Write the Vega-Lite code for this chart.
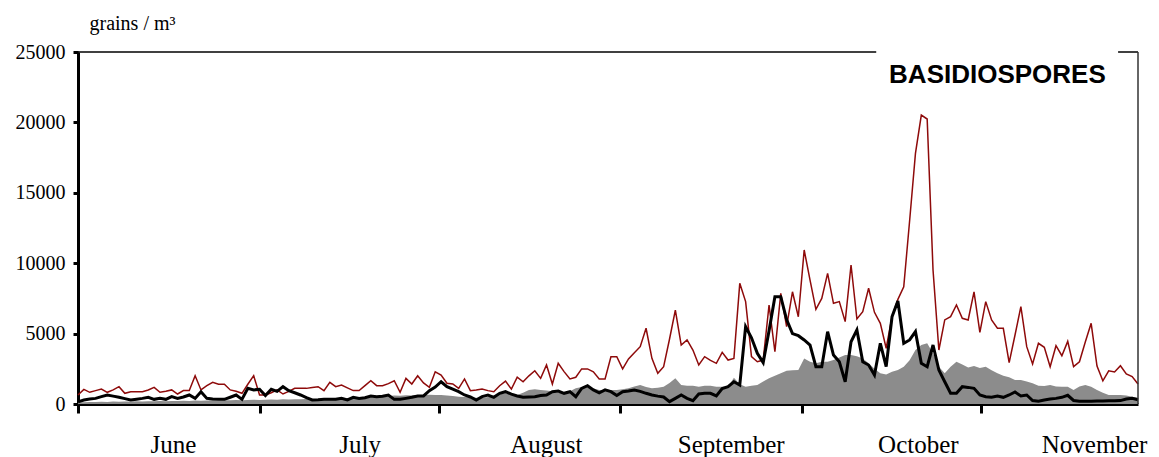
{
  "$schema": "https://vega.github.io/schema/vega-lite/v6.json",
  "autosize": {"type": "none"},
  "padding": {"left": 78, "top": 52, "right": 21, "bottom": 53},
  "width": 1060,
  "height": 352,
  "background": "white",
  "config": {"view": {"stroke": null}},
  "datasets": {"days": [
    {"d":0,"max":640,"cur":150,"mean":120},{"d":1,"max":1040,"cur":285,"mean":130},{"d":2,"max":830,"cur":350,"mean":150},{"d":3,"max":950,"cur":400,"mean":140},{"d":4,"max":1060,"cur":520,"mean":160},{"d":5,"max":830,"cur":640,"mean":150},{"d":6,"max":1000,"cur":560,"mean":170},{"d":7,"max":1230,"cur":475,"mean":160},{"d":8,"max":760,"cur":380,"mean":180},{"d":9,"max":875,"cur":285,"mean":170},
    {"d":10,"max":875,"cur":340,"mean":190},{"d":11,"max":875,"cur":400,"mean":180},{"d":12,"max":1000,"cur":475,"mean":200},{"d":13,"max":1180,"cur":330,"mean":190},{"d":14,"max":830,"cur":400,"mean":210},{"d":15,"max":900,"cur":330,"mean":200},{"d":16,"max":1000,"cur":520,"mean":220},{"d":17,"max":710,"cur":400,"mean":210},{"d":18,"max":950,"cur":500,"mean":230},{"d":19,"max":950,"cur":640,"mean":220},
    {"d":20,"max":2010,"cur":400,"mean":240},{"d":21,"max":1000,"cur":875,"mean":230},{"d":22,"max":1300,"cur":400,"mean":250},{"d":23,"max":1540,"cur":360,"mean":260},{"d":24,"max":1400,"cur":330,"mean":240},{"d":25,"max":1400,"cur":330,"mean":270},{"d":26,"max":1000,"cur":480,"mean":260},{"d":27,"max":900,"cur":640,"mean":280},{"d":28,"max":760,"cur":330,"mean":270},{"d":29,"max":1400,"cur":1110,"mean":290},
    {"d":30,"max":2010,"cur":1000,"mean":300},{"d":31,"max":640,"cur":1050,"mean":290},{"d":32,"max":640,"cur":600,"mean":310},{"d":33,"max":800,"cur":1050,"mean":320},{"d":34,"max":1000,"cur":900,"mean":300},{"d":35,"max":710,"cur":1230,"mean":330},{"d":36,"max":900,"cur":950,"mean":320},{"d":37,"max":1110,"cur":800,"mean":340},{"d":38,"max":1110,"cur":640,"mean":330},{"d":39,"max":1110,"cur":450,"mean":350},
    {"d":40,"max":1180,"cur":285,"mean":360},{"d":41,"max":1230,"cur":300,"mean":350},{"d":42,"max":950,"cur":330,"mean":370},{"d":43,"max":1540,"cur":330,"mean":380},{"d":44,"max":1230,"cur":330,"mean":400},{"d":45,"max":1350,"cur":400,"mean":390},{"d":46,"max":1150,"cur":285,"mean":420},{"d":47,"max":950,"cur":475,"mean":410},{"d":48,"max":950,"cur":400,"mean":440},{"d":49,"max":1300,"cur":450,"mean":460},
    {"d":50,"max":1650,"cur":570,"mean":480},{"d":51,"max":1300,"cur":520,"mean":500},{"d":52,"max":1300,"cur":550,"mean":520},{"d":53,"max":1450,"cur":640,"mean":560},{"d":54,"max":1650,"cur":330,"mean":600},{"d":55,"max":830,"cur":330,"mean":580},{"d":56,"max":1820,"cur":400,"mean":620},{"d":57,"max":1420,"cur":475,"mean":600},{"d":58,"max":2010,"cur":570,"mean":640},{"d":59,"max":1500,"cur":570,"mean":620},
    {"d":60,"max":1180,"cur":950,"mean":660},{"d":61,"max":2290,"cur":1200,"mean":640},{"d":62,"max":2060,"cur":1580,"mean":640},{"d":63,"max":1470,"cur":1230,"mean":600},{"d":64,"max":1420,"cur":1050,"mean":560},{"d":65,"max":1110,"cur":875,"mean":520},{"d":66,"max":1780,"cur":640,"mean":500},{"d":67,"max":950,"cur":500,"mean":480},{"d":68,"max":1000,"cur":285,"mean":440},{"d":69,"max":1060,"cur":520,"mean":430},
    {"d":70,"max":950,"cur":640,"mean":500},{"d":71,"max":875,"cur":475,"mean":600},{"d":72,"max":1300,"cur":760,"mean":700},{"d":73,"max":1630,"cur":875,"mean":760},{"d":74,"max":1060,"cur":700,"mean":700},{"d":75,"max":1900,"cur":570,"mean":640},{"d":76,"max":1580,"cur":475,"mean":800},{"d":77,"max":2000,"cur":500,"mean":1000},{"d":78,"max":2360,"cur":520,"mean":1040},{"d":79,"max":1820,"cur":600,"mean":1000},
    {"d":80,"max":2770,"cur":640,"mean":950},{"d":81,"max":1420,"cur":875,"mean":900},{"d":82,"max":2890,"cur":920,"mean":800},{"d":83,"max":2300,"cur":760,"mean":760},{"d":84,"max":1780,"cur":875,"mean":900},{"d":85,"max":1900,"cur":520,"mean":1110},{"d":86,"max":2490,"cur":1110,"mean":1200},{"d":87,"max":2490,"cur":1300,"mean":1230},{"d":88,"max":2290,"cur":1000,"mean":1100},{"d":89,"max":1780,"cur":800,"mean":1000},
    {"d":90,"max":1780,"cur":1000,"mean":1000},{"d":91,"max":3360,"cur":875,"mean":1000},{"d":92,"max":3360,"cur":600,"mean":1000},{"d":93,"max":2490,"cur":875,"mean":1050},{"d":94,"max":3200,"cur":920,"mean":1110},{"d":95,"max":3640,"cur":1000,"mean":1250},{"d":96,"max":4070,"cur":900,"mean":1350},{"d":97,"max":5380,"cur":760,"mean":1200},{"d":98,"max":3240,"cur":640,"mean":1110},{"d":99,"max":2180,"cur":560,"mean":1150},
    {"d":100,"max":2650,"cur":500,"mean":1230},{"d":101,"max":4600,"cur":165,"mean":1500},{"d":102,"max":6670,"cur":400,"mean":1820},{"d":103,"max":4190,"cur":640,"mean":1350},{"d":104,"max":4550,"cur":400,"mean":1300},{"d":105,"max":3830,"cur":235,"mean":1300},{"d":106,"max":2770,"cur":710,"mean":1230},{"d":107,"max":3360,"cur":760,"mean":1300},{"d":108,"max":3100,"cur":760,"mean":1300},{"d":109,"max":2890,"cur":570,"mean":1230},
    {"d":110,"max":3670,"cur":1100,"mean":1230},{"d":111,"max":3120,"cur":1230,"mean":1230},{"d":112,"max":3240,"cur":1580,"mean":1870},{"d":113,"max":8570,"cur":1350,"mean":1400},{"d":114,"max":7270,"cur":5490,"mean":1230},{"d":115,"max":3360,"cur":4700,"mean":1300},{"d":116,"max":3000,"cur":3600,"mean":1350},{"d":117,"max":3120,"cur":2940,"mean":1600},{"d":118,"max":7030,"cur":5200,"mean":1820},{"d":119,"max":3710,"cur":7620,"mean":2000},
    {"d":120,"max":7860,"cur":7620,"mean":2180},{"d":121,"max":5490,"cur":6000,"mean":2360},{"d":122,"max":7970,"cur":5000,"mean":2400},{"d":123,"max":6200,"cur":4850,"mean":2410},{"d":124,"max":10940,"cur":4550,"mean":3240},{"d":125,"max":8800,"cur":4190,"mean":3000},{"d":126,"max":6720,"cur":2650,"mean":2890},{"d":127,"max":7500,"cur":2650,"mean":3000},{"d":128,"max":9280,"cur":5140,"mean":3000},{"d":129,"max":7150,"cur":3480,"mean":3120},
    {"d":130,"max":7270,"cur":3000,"mean":3300},{"d":131,"max":5850,"cur":1580,"mean":3480},{"d":132,"max":9870,"cur":4420,"mean":3480},{"d":133,"max":6040,"cur":5260,"mean":3400},{"d":134,"max":6560,"cur":3000,"mean":3240},{"d":135,"max":8220,"cur":2770,"mean":2890},{"d":136,"max":6510,"cur":2060,"mean":2500},{"d":137,"max":5730,"cur":4310,"mean":2180},{"d":138,"max":3960,"cur":2650,"mean":2100},{"d":139,"max":6200,"cur":6200,"mean":2290},
    {"d":140,"max":7430,"cur":7310,"mean":2410},{"d":141,"max":8330,"cur":4310,"mean":2650},{"d":142,"max":13000,"cur":4550,"mean":3100},{"d":143,"max":17800,"cur":5140,"mean":3835},{"d":144,"max":20520,"cur":2890,"mean":4190},{"d":145,"max":20240,"cur":2650,"mean":4310},{"d":146,"max":9520,"cur":4190,"mean":3600},{"d":147,"max":3835,"cur":2410,"mean":2650},{"d":148,"max":5970,"cur":1580,"mean":2180},{"d":149,"max":6200,"cur":760,"mean":2650},
    {"d":150,"max":7030,"cur":760,"mean":3000},{"d":151,"max":6090,"cur":1230,"mean":2800},{"d":152,"max":5970,"cur":1180,"mean":2600},{"d":153,"max":7970,"cur":1110,"mean":2700},{"d":154,"max":5090,"cur":640,"mean":2550},{"d":155,"max":7270,"cur":520,"mean":2650},{"d":156,"max":5970,"cur":475,"mean":2400},{"d":157,"max":5380,"cur":570,"mean":2180},{"d":158,"max":5380,"cur":475,"mean":2000},{"d":159,"max":2940,"cur":640,"mean":1900},
    {"d":160,"max":4900,"cur":850,"mean":1700},{"d":161,"max":6910,"cur":570,"mean":1700},{"d":162,"max":4070,"cur":640,"mean":1600},{"d":163,"max":2840,"cur":250,"mean":1470},{"d":164,"max":4310,"cur":200,"mean":1300},{"d":165,"max":4030,"cur":285,"mean":1280},{"d":166,"max":2650,"cur":350,"mean":1350},{"d":167,"max":4140,"cur":400,"mean":1250},{"d":168,"max":3430,"cur":475,"mean":1230},{"d":169,"max":4450,"cur":620,"mean":1230},
    {"d":170,"max":2650,"cur":250,"mean":1000},{"d":171,"max":3000,"cur":200,"mean":1250},{"d":172,"max":4400,"cur":200,"mean":1350},{"d":173,"max":5730,"cur":200,"mean":1230},{"d":174,"max":2700,"cur":220,"mean":1000},{"d":175,"max":1650,"cur":220,"mean":800},{"d":176,"max":2360,"cur":230,"mean":640},{"d":177,"max":2270,"cur":230,"mean":640},{"d":178,"max":2720,"cur":240,"mean":640},{"d":179,"max":2130,"cur":350,"mean":600},
    {"d":180,"max":1950,"cur":400,"mean":520},{"d":181,"max":1420,"cur":300,"mean":450}
  ],
  "one": [{"label": "BASIDIOSPORES"}]},
  "layer": [
    {"data": {"name": "days"},
     "mark": {"type": "area", "color": "#8c8c8c", "interpolate": "linear"},
     "encoding": {
       "x": {"field": "d", "type": "quantitative",
         "scale": {"domain": [0, 181], "nice": false, "zero": false},
         "axis": {
           "values": [0, 31, 61.6, 92.5, 123.6, 154.2],
           "labelExpr": "datum.value < 1 ? 'June' : datum.value < 40 ? 'July' : datum.value < 70 ? 'August' : datum.value < 100 ? 'September' : datum.value < 130 ? 'October' : 'November'",
           "labelFont": "Liberation Serif", "labelFontSize": 25, "labelColor": "black",
           "labelBaseline": "alphabetic", "labelAlign": "center", "labelPadding": 39,
           "labelFlush": false, "labelOverlap": false, "labelBound": false,
           "labelOffset": {"condition": [
             {"test": "datum.value < 1", "value": 95},
             {"test": "datum.value < 40", "value": 100},
             {"test": "datum.value < 70", "value": 107},
             {"test": "datum.value < 100", "value": 111},
             {"test": "datum.value < 130", "value": 116}
           ], "value": 113},
           "tickSize": 9, "tickWidth": 3, "tickColor": "black",
           "domainColor": "black", "domainWidth": 3, "grid": false, "title": null
         }
       },
       "y": {"field": "mean", "type": "quantitative",
         "scale": {"domain": [0, 25000], "nice": false, "zero": true},
         "axis": {
           "values": [0, 5000, 10000, 15000, 20000, 25000], "format": "d",
           "labelFont": "Liberation Serif", "labelFontSize": 20, "labelColor": "black", "labelPadding": 8,
           "tickSize": 5, "tickWidth": 3, "tickColor": "black",
           "domainColor": "black", "domainWidth": 3, "grid": false,
           "title": "grains / m³", "titleAngle": 0, "titleX": 54, "titleY": -23,
           "titleAlign": "center", "titleBaseline": "alphabetic",
           "titleFont": "Liberation Serif", "titleFontSize": 20, "titleFontWeight": "normal", "titleColor": "black"
         }
       }
     }},
    {"data": {"name": "days"},
     "mark": {"type": "line", "color": "#8e0a0a", "strokeWidth": 1.5},
     "encoding": {"x": {"field": "d", "type": "quantitative"}, "y": {"field": "max", "type": "quantitative"}}},
    {"data": {"name": "days"},
     "mark": {"type": "line", "color": "black", "strokeWidth": 3},
     "encoding": {"x": {"field": "d", "type": "quantitative"}, "y": {"field": "cur", "type": "quantitative"}}},
    {"data": {"name": "one"},
     "mark": {"type": "rule", "color": "black", "strokeWidth": 1.5},
     "encoding": {"x": {"datum": 0, "type": "quantitative"}, "x2": {"datum": 136.3}, "y": {"datum": 25000, "type": "quantitative"}}},
    {"data": {"name": "one"},
     "mark": {"type": "rule", "color": "black", "strokeWidth": 1.5},
     "encoding": {"x": {"datum": 177.6, "type": "quantitative"}, "x2": {"datum": 181}, "y": {"datum": 25000, "type": "quantitative"}}},
    {"data": {"name": "one"},
     "mark": {"type": "rule", "color": "#333333", "strokeWidth": 1.5},
     "encoding": {"x": {"datum": 181, "type": "quantitative"}, "y": {"datum": 0, "type": "quantitative"}, "y2": {"datum": 25000}}},
    {"data": {"name": "one"},
     "mark": {"type": "text", "font": "Liberation Sans", "fontSize": 26, "fontWeight": "bold", "color": "black", "align": "center", "baseline": "alphabetic"},
     "encoding": {"text": {"field": "label"}, "x": {"datum": 157.0, "type": "quantitative"}, "y": {"datum": 22780, "type": "quantitative"}}}
  ]
}
